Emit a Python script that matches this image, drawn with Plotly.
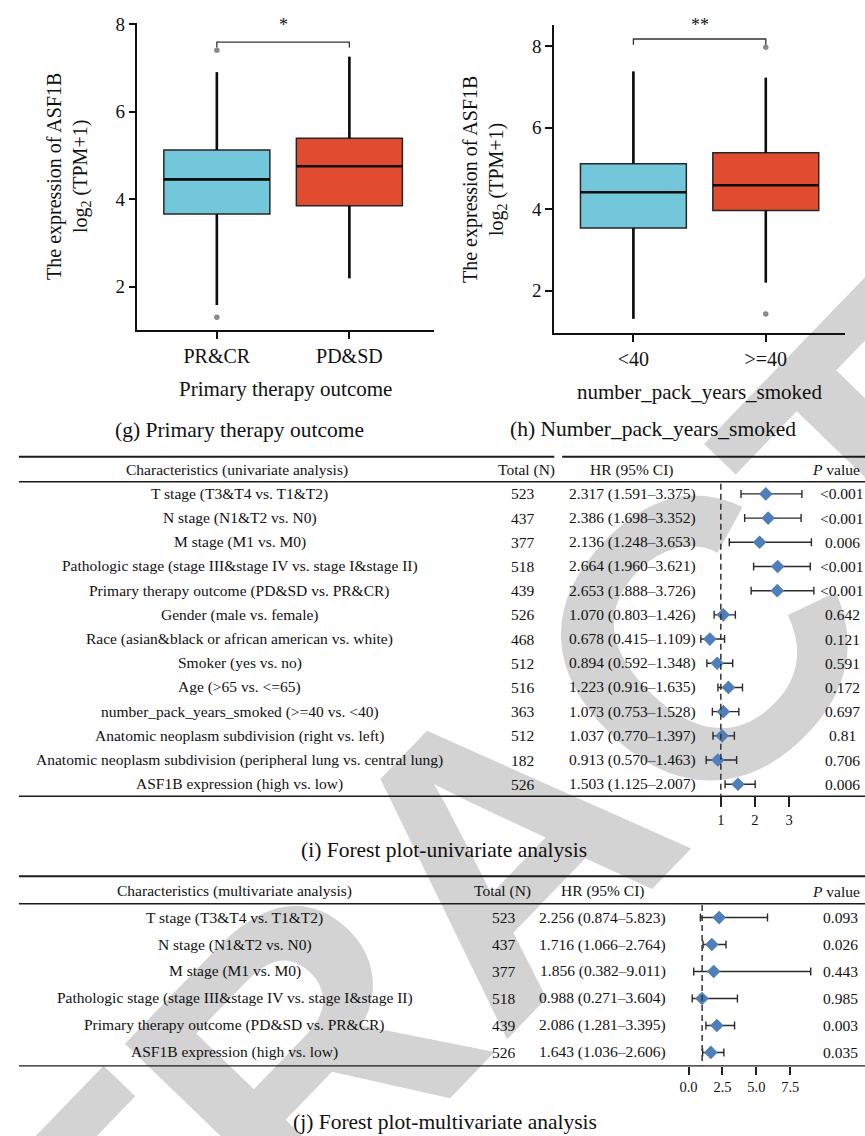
import plotly.graph_objects as go

W, H = 865, 1136


def px(x):
    return x / W


def py(y):
    return 1 - y / H


SERIF = "Liberation Serif, DejaVu Serif, serif"
INK = "#111111"

# ---------------- (g) Primary therapy outcome ----------------
g_groups = ["PR&CR", "PD&SD"]
g_q1 = [3.66, 3.85]
g_median = [4.45, 4.75]
g_q3 = [5.12, 5.39]
g_lower = [1.58, 2.19]
g_upper = [6.90, 7.25]
g_outliers = [[7.40, 1.30], []]

# ---------------- (h) number_pack_years_smoked ----------------
h_groups = ["<40", ">=40"]
h_q1 = [3.54, 3.97]
h_median = [4.42, 4.59]
h_q3 = [5.12, 5.39]
h_lower = [1.31, 2.20]
h_upper = [7.38, 7.23]
h_outliers = [[], [7.98, 1.43]]

box_colors = ["#72C7DB", "#E14B2F"]

# ---------------- (i) univariate Cox analysis ----------------
uni_labels = [
    "T stage (T3&T4 vs. T1&T2)",
    "N stage (N1&T2 vs. N0)",
    "M stage (M1 vs. M0)",
    "Pathologic stage (stage III&stage IV vs. stage I&stage II)",
    "Primary therapy outcome (PD&SD vs. PR&CR)",
    "Gender (male vs. female)",
    "Race (asian&black or african american vs. white)",
    "Smoker (yes vs. no)",
    "Age (>65 vs. <=65)",
    "number_pack_years_smoked (>=40 vs. <40)",
    "Anatomic neoplasm subdivision (right vs. left)",
    "Anatomic neoplasm subdivision (peripheral lung vs. central lung)",
    "ASF1B expression (high vs. low)",
]
uni_n = [523, 437, 377, 518, 439, 526, 468, 512, 516, 363, 512, 182, 526]
uni_hr = [2.317, 2.386, 2.136, 2.664, 2.653, 1.070, 0.678, 0.894, 1.223, 1.073, 1.037, 0.913, 1.503]
uni_lo = [1.591, 1.698, 1.248, 1.960, 1.888, 0.803, 0.415, 0.592, 0.916, 0.753, 0.770, 0.570, 1.125]
uni_hi = [3.375, 3.352, 3.653, 3.621, 3.726, 1.426, 1.109, 1.348, 1.635, 1.528, 1.397, 1.463, 2.007]
uni_p = ["<0.001", "<0.001", "0.006", "<0.001", "<0.001", "0.642", "0.121",
         "0.591", "0.172", "0.697", "0.81", "0.706", "0.006"]
uni_ticks = [1, 2, 3]

# ---------------- (j) multivariate Cox analysis ----------------
multi_labels = [
    "T stage (T3&T4 vs. T1&T2)",
    "N stage (N1&T2 vs. N0)",
    "M stage (M1 vs. M0)",
    "Pathologic stage (stage III&stage IV vs. stage I&stage II)",
    "Primary therapy outcome (PD&SD vs. PR&CR)",
    "ASF1B expression (high vs. low)",
]
multi_n = [523, 437, 377, 518, 439, 526]
multi_hr = [2.256, 1.716, 1.856, 0.988, 2.086, 1.643]
multi_lo = [0.874, 1.066, 0.382, 0.271, 1.281, 1.036]
multi_hi = [5.823, 2.764, 9.011, 3.604, 3.395, 2.606]
multi_p = ["0.093", "0.026", "0.443", "0.985", "0.003", "0.035"]
multi_ticks = [0, 2.5, 5, 7.5]
multi_ticktext = ["0.0", "2.5", "5.0", "7.5"]

fig = go.Figure()


def add_boxes(xa, ya, q1, med, q3, lo, hi, outliers):
    for i in range(len(q1)):
        fig.add_trace(go.Box(
            x=[i], q1=[q1[i]], median=[med[i]], q3=[q3[i]],
            lowerfence=[lo[i]], upperfence=[hi[i]],
            width=0.8, whiskerwidth=0, boxpoints=False,
            fillcolor=box_colors[i], line=dict(color="#262626", width=1.5),
            xaxis=xa, yaxis=ya, hoverinfo="skip",
        ))
        # heavier whiskers and median
        fig.add_trace(go.Scatter(
            x=[i, i, None, i, i, None, i - 0.4, i + 0.4],
            y=[q3[i], hi[i], None, q1[i], lo[i], None, med[i], med[i]],
            mode="lines", line=dict(color="#0d0d0d", width=2.6),
            xaxis=xa, yaxis=ya, hoverinfo="skip",
        ))
        if outliers[i]:
            fig.add_trace(go.Scatter(
                x=[i] * len(outliers[i]), y=outliers[i], mode="markers",
                marker=dict(color="#8a8a8a", size=5.5),
                xaxis=xa, yaxis=ya, hoverinfo="skip",
            ))


add_boxes("x", "y", g_q1, g_median, g_q3, g_lower, g_upper, g_outliers)
add_boxes("x2", "y2", h_q1, h_median, h_q3, h_lower, h_upper, h_outliers)


def add_forest(xa, ya, hr, lo, hi):
    rows = list(range(len(hr)))
    fig.add_trace(go.Scatter(
        x=hr, y=rows, mode="markers",
        marker=dict(symbol="diamond", size=10.5, color="#4E7FBA"),
        error_x=dict(type="data", symmetric=False,
                     array=[h - m for h, m in zip(hi, hr)],
                     arrayminus=[m - l for m, l in zip(hr, lo)],
                     color="#2b2b2b", thickness=1.4, width=4),
        xaxis=xa, yaxis=ya, hoverinfo="skip",
    ))


add_forest("x3", "y3", uni_hr, uni_lo, uni_hi)
add_forest("x4", "y4", multi_hr, multi_lo, multi_hi)

axis_common = dict(showgrid=False, zeroline=False, ticks="outside",
                   tickcolor=INK, tickwidth=1.5, showline=True,
                   linecolor=INK, linewidth=1.5,
                   tickfont=dict(family=SERIF, size=19, color=INK))

fig.update_layout(
    width=W, height=H, margin=dict(l=0, r=0, t=0, b=0),
    paper_bgcolor="white", plot_bgcolor="rgba(0,0,0,0)", showlegend=False,
    font=dict(family=SERIF, color=INK),
    xaxis=dict(axis_common, domain=[px(129), px(429)], range=[-0.605, 1.635],
               tickmode="array", tickvals=[0, 1], ticktext=g_groups, ticklen=7,
               tickfont=dict(family=SERIF, size=20, color=INK), anchor="y"),
    yaxis=dict(axis_common, domain=[py(323.3), py(13.3)], range=[1.0, 8.018],
               tickvals=[2, 4, 6, 8], ticklen=6, anchor="x"),
    xaxis2=dict(axis_common, domain=[px(550.7), px(845)], range=[-0.6, 1.6],
                tickmode="array", tickvals=[0, 1], ticktext=h_groups, ticklen=7,
                tickfont=dict(family=SERIF, size=20, color=INK), anchor="y2"),
    yaxis2=dict(axis_common, domain=[py(326), py(15)], range=[0.96, 8.527],
                tickvals=[2, 4, 6, 8], ticklen=7, anchor="x2"),
    xaxis3=dict(domain=[px(684.8), px(857.3)], range=[0, 5], tickvals=uni_ticks,
                ticks="outside", ticklen=10, tickwidth=1.5, tickcolor="#222",
                showline=False, showgrid=False, zeroline=False, anchor="y3",
                tickfont=dict(family=SERIF, size=14.5, color=INK)),
    yaxis3=dict(domain=[py(793.3), py(476)], range=[12.5, -0.5], visible=False,
                anchor="x3"),
    xaxis4=dict(domain=[px(686.7), px(823.7)], range=[0, 10], tickvals=multi_ticks,
                ticktext=multi_ticktext, ticks="outside", ticklen=8, tickwidth=1.5,
                tickcolor="#222", showline=False, showgrid=False, zeroline=False,
                anchor="y4", tickfont=dict(family=SERIF, size=14.5, color=INK)),
    yaxis4=dict(domain=[py(1065.3), py(902)], range=[5.5, -0.5], visible=False,
                anchor="x4"),
)

shapes = []
# watermark behind everything
shapes.append(dict(
    type="rect", xref="paper", yref="paper",
    x0=px(469), x1=px(471), y0=py(821), y1=py(819),
    line=dict(width=0), fillcolor="rgba(0,0,0,0)", layer="below",
    label=dict(text="RETRACTED", textangle=-46, textposition="middle center",
               font=dict(family="Liberation Sans", size=395, color="#d3d3d3",
                         weight="bold")),
))

# significance brackets
shapes.append(dict(type="path", xref="x", yref="y",
                   path="M 0,7.46 L 0,7.586 L 1,7.586 L 1,7.46",
                   line=dict(color="#333", width=1.3)))
shapes.append(dict(type="path", xref="x2", yref="y2",
                   path="M 0,8.04 L 0,8.18 L 1,8.18 L 1,8.04",
                   line=dict(color="#333", width=1.3)))


def hline(y, x0, x1, w):
    shapes.append(dict(type="line", xref="paper", yref="paper",
                       x0=px(x0), x1=px(x1), y0=py(y), y1=py(y),
                       line=dict(color="#1c1c1c", width=w)))


# univariate table rules
hline(450.7, 10, 551, 2)
hline(450.7, 559, 865, 2)
hline(476, 10, 865, 1.4)
hline(793.3, 10, 865, 1.4)
# multivariate table rules
hline(874, 10, 865, 2)
hline(901.7, 10, 865, 1.4)
hline(1065.3, 10, 865, 1.4)

# reference lines at HR = 1
shapes.append(dict(type="line", xref="x3", yref="paper", x0=1, x1=1,
                   y0=py(478), y1=py(793.3),
                   line=dict(color="#333", width=1.5, dash="6px,4px")))
shapes.append(dict(type="line", xref="x4", yref="paper", x0=1, x1=1,
                   y0=py(903), y1=py(1065.3),
                   line=dict(color="#333", width=1.5, dash="6px,4px")))

fig.update_layout(shapes=shapes)

ann = []


def text(x, y, s, size, xanchor="center", textangle=0, yref="paper", xref="paper"):
    ann.append(dict(x=x, y=y, xref=xref, yref=yref, text=s, showarrow=False,
                    xanchor=xanchor, yanchor="middle", textangle=textangle,
                    font=dict(family=SERIF, size=size, color=INK)))


# box plot titles and captions
ytitle = "The expression of ASF1B<br>log<sub>2</sub> (TPM+1)"
text(px(60), py(168), ytitle, 20, textangle=-90)
text(px(481), py(170.5), ytitle, 20, textangle=-90)
text(px(279), py(382), "Primary therapy outcome", 21)
text(px(698), py(385), "number_pack_years_smoked", 21)
text(px(277), py(15), "*", 18)
text(px(698), py(15), "**", 18)
text(px(233), py(424), "(g) Primary therapy outcome", 21.5)
text(px(651), py(423), "(h) Number_pack_years_smoked", 21.5)
text(px(440), py(847), "(i) Forest plot-univariate analysis", 21.5)
text(px(441), py(1122), "(j) Forest plot-multivariate analysis", 21.5)

TS = 15.5
# univariate table
text(px(230), py(464), "Characteristics (univariate analysis)", TS)
text(px(523), py(464), "Total (N)", TS)
text(px(630), py(464), "HR (95% CI)", TS)
text(px(862), py(464), "<i>P</i> value", TS, xanchor="right")
for i, lab in enumerate(uni_labels):
    text(px(233), i, lab, TS, yref="y3")
    text(px(519), i, str(uni_n[i]), TS, yref="y3")
    text(px(630), i, f"{uni_hr[i]:.3f} ({uni_lo[i]:.3f}\u2013{uni_hi[i]:.3f})", TS, yref="y3")
    text(px(842), i, uni_p[i], TS, yref="y3")

# multivariate table
text(px(228), py(889.3), "Characteristics (multivariate analysis)", TS)
text(px(498.5), py(889.3), "Total (N)", TS)
text(px(600), py(889.3), "HR (95% CI)", TS)
text(px(862), py(889.3), "<i>P</i> value", TS, xanchor="right")
for i, lab in enumerate(multi_labels):
    text(px(228), i, lab, TS, yref="y4")
    text(px(500), i, str(multi_n[i]), TS, yref="y4")
    text(px(600), i, f"{multi_hr[i]:.3f} ({multi_lo[i]:.3f}\u2013{multi_hi[i]:.3f})", TS, yref="y4")
    text(px(840.5), i, multi_p[i], TS, yref="y4")

fig.update_layout(annotations=ann)

fig.write_html("out.html")
